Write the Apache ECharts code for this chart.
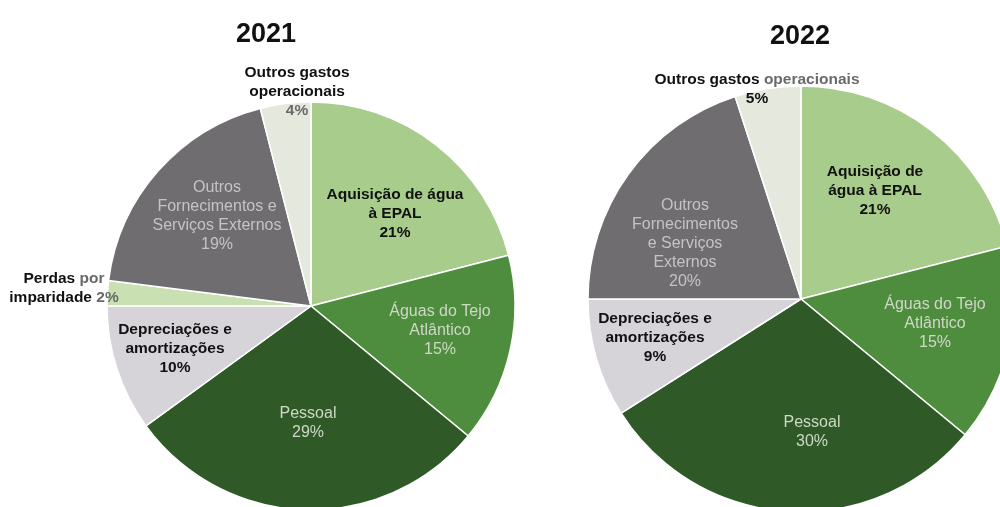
<!DOCTYPE html>
<html>
<head>
<meta charset="utf-8">
<script src="https://cdn.jsdelivr.net/npm/echarts@6/dist/echarts.min.js"></script>
<style>
  html, body { margin: 0; padding: 0; background: #fff; }
  #chart { width: 1000px; height: 507px; }
</style>
</head>
<body>
<div id="chart"></div>
<script>
// ---- Data ----
const years = ['2021', '2022'];
const categories = [
  'Aquisição de água à EPAL',
  'Águas do Tejo Atlântico',
  'Pessoal',
  'Depreciações e amortizações',
  'Perdas por imparidade',
  'Outros Fornecimentos e Serviços Externos',
  'Outros gastos operacionais'
];
const values2021 = [21, 15, 29, 10, 2, 19, 4];
const values2022 = [21, 15, 30, 9, 0, 20, 5];

// Label texts (line breaks as in the original); {v} is replaced by the value
const labels2021 = [
  'Aquisição de água\nà EPAL\n{v}%',
  'Águas do Tejo\nAtlântico\n{v}%',
  'Pessoal\n{v}%',
  'Depreciações e\namortizações\n{v}%',
  'Perdas {g|por}\nimparidade {g|{v}%}',
  'Outros\nFornecimentos e\nServiços Externos\n{v}%',
  'Outros gastos\noperacionais\n{g|{v}%}'
];
const labels2022 = [
  'Aquisição de\nágua à EPAL\n{v}%',
  'Águas do Tejo\nAtlântico\n{v}%',
  'Pessoal\n{v}%',
  'Depreciações e\namortizações\n{v}%',
  'Perdas por\nimparidade {v}%',
  'Outros\nFornecimentos\ne Serviços\nExternos\n{v}%',
  'Outros gastos {g|operacionais}\n{v}%'
];

// ---- Styles ----
const sliceColors = ['#a8cc8c', '#4f8d3e', '#2f5a28', '#d6d4d9', '#c9e0b3', '#6f6d70', '#e4e8dd'];
const darkText = [true, false, false, true, true, false, true];
const FONT = '"Liberation Sans", Arial, sans-serif';

// label centre positions (pixels) for each slice
const labelPos2021 = [[395, 214], [440, 331], [308, 423], [175, 349], [64, 288], [217, 216], [297, 92]];
const labelPos2022 = [[875, 191], [935, 324], [812, 432], [655, 338], null, [685, 244], [757, 89]];

function buildData(values, labels) {
  const out = [];
  values.forEach((v, i) => {
    if (!v) return;
    out.push({
      name: categories[i],
      value: v,
      catIndex: i,
      labelText: labels[i].replace(/\{v\}/g, v),
      itemStyle: { color: sliceColors[i] },
      label: darkText[i]
        ? { color: '#111', fontWeight: 'bold', fontSize: 15.5 }
        : { color: sliceColors[i] === '#6f6d70' ? '#c4c4c4' : '#cdd9c5', fontWeight: 'normal', fontSize: 16 }
    });
  });
  return out;
}

function makeSeries(values, labels, positions, center, radius) {
  const data = buildData(values, labels);
  return {
    type: 'pie',
    center: center,
    radius: radius,
    startAngle: 90,
    clockwise: true,
    avoidLabelOverlap: false,
    silent: true,
    itemStyle: { borderColor: '#ffffff', borderWidth: 1.5 },
    label: {
      show: true,
      position: 'inside',
      fontFamily: FONT,
      lineHeight: 19,
      align: 'center',
      formatter: p => p.data.labelText,
      rich: {
        g: { color: '#6a6a6a', fontFamily: FONT, fontWeight: 'bold', fontSize: 15.5, lineHeight: 19 }
      }
    },
    labelLine: { show: false },
    labelLayout: function (params) {
      const d = data[params.dataIndex];
      const pos = positions[d.catIndex];
      if (!pos) return {};
      return { x: pos[0], y: pos[1], align: 'center', verticalAlign: 'middle' };
    },
    data: data
  };
}

const chart = echarts.init(document.getElementById('chart'), null, { renderer: 'canvas' });
chart.setOption({
  backgroundColor: '#ffffff',
  animation: false,
  title: [
    { text: years[0], left: 266, top: 21, textAlign: 'center', padding: 0,
      textStyle: { fontFamily: FONT, fontWeight: 'bold', fontSize: 27, color: '#111' } },
    { text: years[1], left: 800, top: 23, textAlign: 'center', padding: 0,
      textStyle: { fontFamily: FONT, fontWeight: 'bold', fontSize: 27, color: '#111' } }
  ],
  series: [
    makeSeries(values2021, labels2021, labelPos2021, [311, 306], 204),
    makeSeries(values2022, labels2022, labelPos2022, [801, 299], 213)
  ]
});
</script>
</body>
</html>
